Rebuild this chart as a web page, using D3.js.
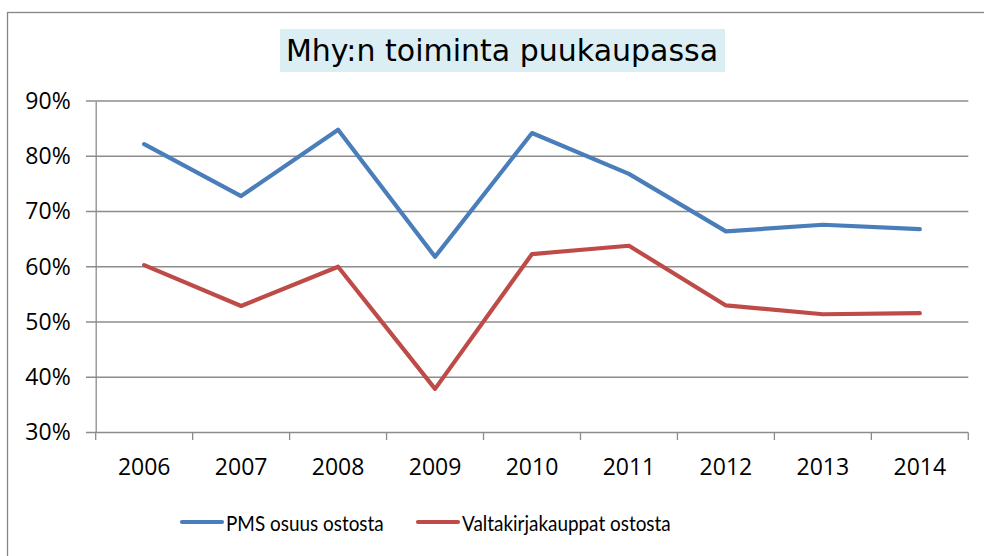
<!DOCTYPE html>
<html><head><meta charset="utf-8">
<script src="https://cdn.jsdelivr.net/npm/d3@7"></script>
<style>body{margin:0;background:#fff}svg{display:block}</style>
</head><body>
<svg id="c" width="984" height="556"></svg>
<script>
const years = ["2006","2007","2008","2009","2010","2011","2012","2013","2014"];
const pmsValues = [82.2, 72.8, 84.8, 61.8, 84.2, 76.8, 66.4, 67.6, 66.8];
const valtakirjaValues = [60.3, 52.9, 60.0, 37.9, 62.3, 63.8, 53.0, 51.4, 51.6];
const yTicks = [30, 40, 50, 60, 70, 80, 90];
const seriesNames = ["PMS osuus ostosta", "Valtakirjakauppat ostosta"];
const titleText = "Mhy:n toiminta puukaupassa";

const svg = d3.select("#c");
const font = "'Open Sans', sans-serif";
const legendFont = "Lato, sans-serif";
// outer border
svg.append("rect").attr("x",7.5).attr("y",12.5).attr("width",1000).attr("height",600)
  .attr("fill","none").attr("stroke","#868686").attr("stroke-width",1.3);

const x = d3.scaleBand().domain(years).range([95.7, 968.3]);
const y = d3.scaleLinear().domain([30, 90]).range([432.5, 101]);
const gridColor = "#8c8c8c";

// gridlines
svg.append("g").selectAll("line").data(yTicks).join("line")
  .attr("x1", 86).attr("x2", 968.3)
  .attr("y1", d => y(d)).attr("y2", d => y(d))
  .attr("stroke", gridColor).attr("stroke-width", 1.3);

// y axis
const yAxis = svg.append("g").attr("transform","translate(95.7,0)")
  .call(d3.axisLeft(y).tickValues(yTicks).tickFormat(d => d + "%").tickSize(0).tickPadding(25));
yAxis.select(".domain").attr("stroke", gridColor).attr("stroke-width",1.3);
yAxis.selectAll("text").attr("font-family", font).attr("font-size", 23).attr("fill","#000");

// x axis
const xAxis = svg.append("g").attr("transform","translate(0,432.5)")
  .call(d3.axisBottom(x).tickSize(0).tickPadding(0));
xAxis.select(".domain").remove();
xAxis.selectAll("text").attr("font-family", font).attr("font-size", 23).attr("fill","#000")
  .attr("dy", null).attr("y", 42.5);
const bounds = years.map(d => x(d)).concat([x.range()[1]]);
svg.append("g").selectAll("line").data(bounds).join("line")
  .attr("x1", d => d).attr("x2", d => d).attr("y1", 432.5).attr("y2", 440)
  .attr("stroke", gridColor).attr("stroke-width", 1.3);

// lines
const colors = ["#4a7ebb", "#be4b48"];
const line = d3.line().x((d,i) => x(years[i]) + x.bandwidth()/2).y(d => y(d));
[pmsValues, valtakirjaValues].forEach((vals, k) => {
  svg.append("path").datum(vals).attr("d", line).attr("fill","none")
    .attr("stroke", colors[k]).attr("stroke-width", 4.2)
    .attr("stroke-linejoin","round").attr("stroke-linecap","round");
});

// title
svg.append("rect").attr("x", 280).attr("y", 29).attr("width", 445).attr("height", 43).attr("fill", "#dbeef4");
svg.append("text").attr("x", 502).attr("y", 61).attr("text-anchor","middle")
  .attr("font-family","Verdana, 'DejaVu Sans', sans-serif").attr("font-size", 30).attr("fill","#000")
  .text(titleText);

// legend
const legX = [182, 418];
seriesNames.forEach((name, k) => {
  svg.append("line").attr("x1", legX[k]).attr("x2", legX[k] + 40).attr("y1", 522).attr("y2", 522)
    .attr("stroke", colors[k]).attr("stroke-width", 4.2).attr("stroke-linecap","round");
  svg.append("g").attr("transform", `translate(${legX[k] + 44},531) scale(0.86,1)`)
    .append("text").attr("x", 0).attr("y", 0)
    .attr("font-family", legendFont).attr("font-size", 22).attr("fill","#000").text(name);
});
</script>
</body></html>
